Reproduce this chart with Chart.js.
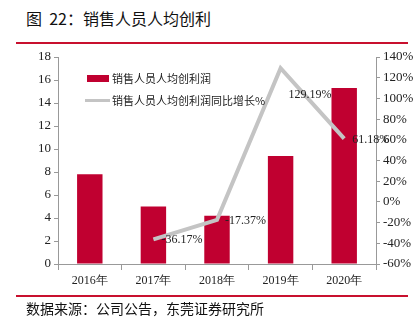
<!DOCTYPE html>
<html>
<head>
<meta charset="utf-8">
<script src="https://cdn.jsdelivr.net/npm/chart.js@4"></script>
<style>
  body { margin: 0; background: #fff; }
  #wrap { position: relative; width: 418px; height: 323px; overflow: hidden; }
  #chart { position: absolute; left: 0; top: 0; }
  .title { position: absolute; left: 26px; top: 6px; font: 16px "Noto Sans CJK SC"; color: #111; white-space: pre; }
  .source { position: absolute; left: 26px; top: 298px; font: 14px "Noto Sans CJK SC"; color: #111; white-space: pre; }
  .rule { position: absolute; left: 16px; width: 392px; height: 2px; background: #c8102e; }
  .leg { position: absolute; font: 11px "Noto Sans CJK SC"; color: #222; white-space: pre; }
</style>
</head>
<body>
<div id="wrap">
  <div class="title">图  22：销售人员人均创利</div>
  <div class="rule" style="top:42px"></div>
  <canvas id="chart" width="418" height="323"></canvas>
  <div class="rule" style="top:295px"></div>
  <div class="source">数据来源：公司公告，东莞证券研究所</div>
  <div style="position:absolute;left:87px;top:75px;width:22px;height:7px;background:#c00030"></div>
  <div class="leg" style="left:112px;top:70px">销售人员人均创利润</div>
  <div style="position:absolute;left:85px;top:99px;width:25px;height:3px;background:#c4c4c4"></div>
  <div class="leg" style="left:112px;top:92px">销售人员人均创利润同比增长%</div>
</div>
<script>
// 数据
var years = ['2016年', '2017年', '2018年', '2019年', '2020年'];
var profitPerSales = [7.8, 5.0, 4.2, 9.4, 15.3];
var profitGrowth = [null, -36.17, -17.37, 129.19, 61.18];

var serif = 'Liberation Serif';

// 折线数据标签
var pointLabels = {
    id: 'pointLabels',
    afterDatasetsDraw: function(chart) {
        var ctx = chart.ctx;
        var meta = chart.getDatasetMeta(1);
        ctx.save();
        ctx.font = '12px "' + serif + '"';
        ctx.fillStyle = '#222';
        ctx.textBaseline = 'middle';
        ctx.textAlign = 'left';
        meta.data.forEach(function(pt, i) {
            var v = profitGrowth[i];
            if (v === null) return;
            var dy = (i === 3) ? 27 : 1;
            ctx.fillText(v.toFixed(2) + '%', pt.x + 8, pt.y + dy);
        });
        ctx.restore();
    }
};

var ctx = document.getElementById('chart').getContext('2d');
var chart = new Chart(ctx, {
    type: 'bar',
    data: {
        labels: years,
        datasets: [{
            label: '销售人员人均创利润',
            data: profitPerSales,
            backgroundColor: '#c00030',
            yAxisID: 'y',
            barPercentage: 0.4,
            categoryPercentage: 1,
            order: 1
        }, {
            type: 'line',
            label: '销售人员人均创利润同比增长%',
            data: profitGrowth,
            borderColor: '#c4c4c4',
            borderWidth: 4,
            pointRadius: 0,
            tension: 0,
            yAxisID: 'y1',
            order: 0
        }]
    },
    options: {
        responsive: false,
        animation: false,
        layout: { padding: { top: 57, left: 0, right: 0, bottom: 0 } },
        plugins: {
            legend: { display: false },
            tooltip: { enabled: false }
        },
        scales: {
            x: {
                grid: { drawOnChartArea: false, color: '#999', tickLength: 6 },
                border: { color: '#999' },
                ticks: { color: '#222', font: { family: serif, size: 12 }, padding: 4 },
                afterFit: function(s) { s.height = 59; }
            },
            y: {
                position: 'left',
                min: 0, max: 18,
                ticks: { stepSize: 2, color: '#222', font: { family: serif, size: 13 }, padding: 3 },
                grid: { drawOnChartArea: false, color: '#999', tickLength: 4 },
                border: { color: '#999' },
                afterFit: function(s) { s.width = 58; }
            },
            y1: {
                position: 'right',
                min: -60, max: 140,
                ticks: {
                    stepSize: 20, color: '#222', font: { family: serif, size: 13 }, padding: 3,
                    callback: function(v) { return v + '%'; }
                },
                grid: { drawOnChartArea: false, color: '#999', tickLength: 4 },
                border: { color: '#999' },
                afterFit: function(s) { s.width = 42; }
            }
        }
    },
    plugins: [pointLabels]
});
</script>
</body>
</html>
